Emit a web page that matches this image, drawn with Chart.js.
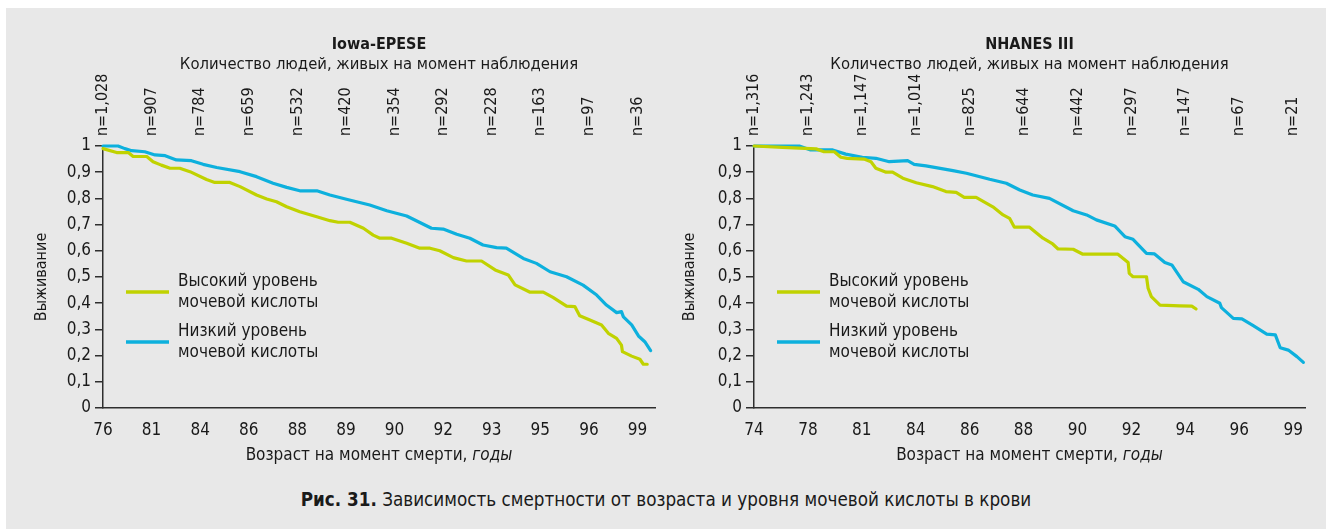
<!DOCTYPE html>
<html lang="ru">
<head>
<meta charset="utf-8">
<title>Рис. 31</title>
<script src="https://cdn.jsdelivr.net/npm/chart.js@4.4.0/dist/chart.umd.min.js"></script>
<style>
    body { margin: 0; width: 1332px; height: 530px; background: #fff; position: relative; overflow: hidden;
           font-family: 'DejaVu Sans Condensed', 'DejaVu Sans', sans-serif; color: #1a1a1a; }
    #panel { position: absolute; left: 6px; top: 8px; width: 1320px; height: 521px; background: #e8e8e8; }
    canvas { position: absolute; top: 0; }
    #iowa-chart { left: 0; }
    #nhanes-chart { left: 666px; }
    #caption { position: absolute; left: 0; top: 489px; width: 1332px; text-align: center; font-size: 18.7px; }
</style>
</head>
<body>
<div id="panel"></div>
<canvas id="iowa-chart" width="666" height="470"></canvas>
<canvas id="nhanes-chart" width="666" height="470"></canvas>
<div id="caption"><b>Рис. 31.</b> Зависимость смертности от возраста и уровня мочевой кислоты в крови</div>

<script>
// ========================================
// DATA
// ========================================

// Iowa-EPESE: age ticks (bottom) and number alive (top)
const iowaAges = ['76', '81', '84', '86', '88', '89', '90', '92', '93', '95', '96', '99'];
const iowaCounts = ['n=1,028', 'n=907', 'n=784', 'n=659', 'n=532', 'n=420', 'n=354', 'n=292', 'n=228', 'n=163', 'n=97', 'n=36'];

// x is the position along the age ticks (0 = first tick), y is survival
const iowaHighX = [0, 0.28, 0.52, 0.62, 0.9, 1.03, 1.2, 1.38, 1.58, 1.79, 2.13, 2.3, 2.61, 2.82, 3.16, 3.37, 3.57, 3.78, 4.05, 4.4, 4.67, 4.84, 5.08, 5.36, 5.56, 5.7, 5.94, 6.25, 6.52, 6.73, 6.93, 7.21, 7.48, 7.79, 8.07, 8.34, 8.48, 8.79, 9.06, 9.26, 9.54, 9.71, 9.81, 10.02, 10.26, 10.4, 10.57, 10.67, 10.69, 10.88, 11.05, 11.12, 11.2];
const iowaHighY = [0.99, 0.975, 0.975, 0.96, 0.96, 0.94, 0.927, 0.915, 0.915, 0.902, 0.872, 0.861, 0.861, 0.845, 0.813, 0.798, 0.787, 0.768, 0.749, 0.73, 0.715, 0.709, 0.709, 0.686, 0.66, 0.648, 0.648, 0.629, 0.61, 0.61, 0.6, 0.574, 0.561, 0.561, 0.527, 0.508, 0.47, 0.442, 0.442, 0.422, 0.389, 0.387, 0.352, 0.336, 0.317, 0.285, 0.266, 0.24, 0.215, 0.198, 0.186, 0.167, 0.167];
const iowaLowX = [0, 0.31, 0.45, 0.59, 0.86, 1.07, 1.28, 1.51, 1.82, 2.06, 2.34, 2.82, 3.16, 3.5, 3.78, 4.05, 4.4, 4.67, 5.01, 5.49, 5.84, 6.25, 6.76, 7.0, 7.28, 7.55, 7.82, 8.1, 8.3, 8.65, 8.92, 9.2, 9.54, 9.88, 10.16, 10.36, 10.57, 10.67, 10.71, 10.88, 11.02, 11.15, 11.27];
const iowaLowY = [1.0, 1.0, 0.99, 0.982, 0.978, 0.966, 0.963, 0.947, 0.944, 0.93, 0.918, 0.902, 0.883, 0.858, 0.842, 0.829, 0.829, 0.813, 0.797, 0.775, 0.753, 0.733, 0.686, 0.683, 0.663, 0.648, 0.622, 0.612, 0.61, 0.571, 0.552, 0.52, 0.501, 0.469, 0.431, 0.393, 0.364, 0.368, 0.348, 0.317, 0.275, 0.253, 0.219];

// NHANES III
const nhanesAges = ['74', '78', '81', '84', '86', '88', '90', '92', '94', '96', '99'];
const nhanesCounts = ['n=1,316', 'n=1,243', 'n=1,147', 'n=1,014', 'n=825', 'n=644', 'n=442', 'n=297', 'n=147', 'n=67', 'n=21'];

const nhanesHighX = [0, 0.53, 1.15, 1.3, 1.49, 1.61, 1.73, 2.04, 2.17, 2.26, 2.45, 2.57, 2.76, 3.01, 3.31, 3.56, 3.75, 3.9, 4.12, 4.43, 4.62, 4.74, 4.83, 5.11, 5.36, 5.54, 5.64, 5.92, 6.1, 6.75, 6.94, 6.96, 7.03, 7.28, 7.31, 7.37, 7.53, 7.9, 8.12, 8.2];
const nhanesHighY = [1.0, 0.995, 0.989, 0.978, 0.978, 0.957, 0.953, 0.95, 0.94, 0.915, 0.9, 0.9, 0.877, 0.86, 0.845, 0.826, 0.823, 0.804, 0.804, 0.768, 0.737, 0.724, 0.69, 0.69, 0.648, 0.626, 0.607, 0.606, 0.587, 0.587, 0.555, 0.514, 0.501, 0.501, 0.457, 0.425, 0.393, 0.39, 0.389, 0.378];
const nhanesLowX = [0, 0.84, 1.05, 1.46, 1.7, 2.01, 2.26, 2.51, 2.85, 2.97, 3.19, 3.69, 3.94, 4.37, 4.68, 4.93, 5.17, 5.48, 5.92, 6.17, 6.35, 6.69, 6.88, 7.03, 7.28, 7.43, 7.62, 7.75, 7.96, 8.24, 8.4, 8.64, 8.67, 8.89, 9.05, 9.26, 9.51, 9.67, 9.76, 9.91, 10.07, 10.19];
const nhanesLowY = [1.0, 1.0, 0.985, 0.985, 0.969, 0.957, 0.953, 0.94, 0.944, 0.93, 0.924, 0.906, 0.896, 0.873, 0.858, 0.832, 0.813, 0.8, 0.753, 0.737, 0.718, 0.695, 0.654, 0.644, 0.59, 0.588, 0.555, 0.546, 0.482, 0.453, 0.425, 0.4, 0.383, 0.342, 0.34, 0.314, 0.282, 0.279, 0.23, 0.221, 0.196, 0.174];

// shared texts
const yTickLabels = ['0', '0,1', '0,2', '0,3', '0,4', '0,5', '0,6', '0,7', '0,8', '0,9', '1'];
const seriesLabels = [['Высокий уровень', 'мочевой кислоты'], ['Низкий уровень', 'мочевой кислоты']];
const xTitleParts = ['Возраст на момент смерти, ', 'годы'];
const yTitle = 'Выживание';
const subTitle = 'Количество людей, живых на момент наблюдения';

// ========================================
// STYLE
// ========================================
const FONT = "'DejaVu Sans Condensed', 'DejaVu Sans', sans-serif";
const TEXT = '#1a1a1a';
const AXIS = '#2e2e2e';
const GREEN = '#c0d200';
const BLUE = '#0db0dd';
const COUNT_FONT = 16;

Chart.defaults.font.family = FONT;
Chart.defaults.color = TEXT;

// x title with italic part + two-line legend inside the plot
const overlayPlugin = {
    id: 'overlay',
    afterDraw(chart) {
        const { ctx, chartArea: a } = chart;
        ctx.save();
        ctx.fillStyle = TEXT;
        ctx.textBaseline = 'middle';

        // axis title
        const regular = '17px ' + FONT, italic = 'italic 17px ' + FONT;
        ctx.font = regular;
        const w1 = ctx.measureText(xTitleParts[0]).width;
        ctx.font = italic;
        const w2 = ctx.measureText(xTitleParts[1]).width;
        const x = (a.left + a.right) / 2 - (w1 + w2) / 2;
        ctx.textAlign = 'left';
        ctx.font = regular;
        ctx.fillText(xTitleParts[0], x, a.bottom + 48);
        ctx.font = italic;
        ctx.fillText(xTitleParts[1], x + w1, a.bottom + 48);

        // legend
        ctx.font = '17px ' + FONT;
        [GREEN, BLUE].forEach((color, k) => {
            const y = a.top + 146 + k * 50;
            ctx.strokeStyle = color;
            ctx.lineWidth = 3.5;
            ctx.beginPath();
            ctx.moveTo(a.left + 23, y);
            ctx.lineTo(a.left + 66, y);
            ctx.stroke();
            seriesLabels[k].forEach((t, j) => ctx.fillText(t, a.left + 75, y + (j - 0.5) * 21));
        });
        ctx.restore();
    }
};

function toPoints(xs, ys) {
    return xs.map((x, i) => ({ x: x, y: ys[i] }));
}

function renderSurvivalChart(id, opts) {
    const ctx = document.getElementById(id).getContext('2d');
    return new Chart(ctx, {
        type: 'line',
        data: {
            datasets: [
                { label: seriesLabels[0].join(' '), data: toPoints(opts.highX, opts.highY), borderColor: GREEN },
                { label: seriesLabels[1].join(' '), data: toPoints(opts.lowX, opts.lowY), borderColor: BLUE }
            ]
        },
        options: {
            responsive: false,
            animation: false,
            devicePixelRatio: 1,
            elements: {
                line: { borderWidth: 3.2, tension: 0, borderJoinStyle: 'round', borderCapStyle: 'round', fill: false },
                point: { radius: 0, hoverRadius: 0 }
            },
            datasets: { line: { clip: 6 } },
            layout: { padding: { left: 0, right: opts.padRight, top: 34, bottom: 0 } },
            plugins: {
                legend: { display: false },
                tooltip: { enabled: false },
                title: {
                    display: true, text: opts.title, fullSize: false, color: TEXT,
                    font: { size: 16, weight: 'bold', lineHeight: 1.3 }, padding: 0
                },
                subtitle: {
                    display: true, text: subTitle, fullSize: false, color: TEXT,
                    font: { size: 16.5, lineHeight: 1.2 }, padding: 0
                }
            },
            scales: {
                x: {
                    type: 'linear', position: 'bottom', min: 0, max: opts.xMax,
                    afterBuildTicks: s => { s.ticks = opts.ages.map((_, i) => ({ value: i })); },
                    afterFit: s => { s.height = 62; },
                    border: { display: true, color: AXIS, width: 1.5 },
                    grid: { display: false },
                    ticks: { autoSkip: false, maxRotation: 0, padding: 4, font: { size: 17 }, color: TEXT,
                             callback: (v, i) => opts.ages[i] }
                },
                x2: {
                    type: 'linear', position: 'top', min: 0, max: opts.xMax,
                    afterBuildTicks: s => { s.ticks = opts.counts.map((_, i) => ({ value: i })); },
                    afterFit: s => { s.height = 71.4; },
                    border: { display: false },
                    grid: { display: false },
                    ticks: { autoSkip: false, minRotation: 90, maxRotation: 90, padding: 2,
                             labelOffset: COUNT_FONT * 1.2, font: { size: COUNT_FONT, lineHeight: 1.2 }, color: TEXT,
                             callback: (v, i) => opts.counts[i] }
                },
                y: {
                    min: 0, max: 1,
                    afterFit: s => { s.width = opts.yWidth; },
                    border: { display: true, color: AXIS, width: 1.5 },
                    grid: { display: true, drawOnChartArea: false, drawTicks: true, tickLength: 8, color: AXIS, lineWidth: 1.5 },
                    ticks: { stepSize: 0.1, padding: 4, font: { size: 17 }, color: TEXT,
                             callback: (v, i) => yTickLabels[i] },
                    title: { display: true, text: yTitle, color: TEXT, font: { size: 16, lineHeight: 1.2 },
                             padding: { top: opts.yTitlePad, bottom: 0 } }
                }
            }
        },
        plugins: [overlayPlugin]
    });
}

// ========================================
// RENDER
// ========================================
renderSurvivalChart('iowa-chart', {
    title: 'Iowa-EPESE', ages: iowaAges, counts: iowaCounts, xMax: 11.36,
    highX: iowaHighX, highY: iowaHighY, lowX: iowaLowX, lowY: iowaLowY,
    padRight: 11, yWidth: 103, yTitlePad: 32.4
});
renderSurvivalChart('nhanes-chart', {
    title: 'NHANES III', ages: nhanesAges, counts: nhanesCounts, xMax: 10.22,
    highX: nhanesHighX, highY: nhanesHighY, lowX: nhanesLowX, lowY: nhanesLowY,
    padRight: 27, yWidth: 88, yTitlePad: 14.4
});
</script>
</body>
</html>
